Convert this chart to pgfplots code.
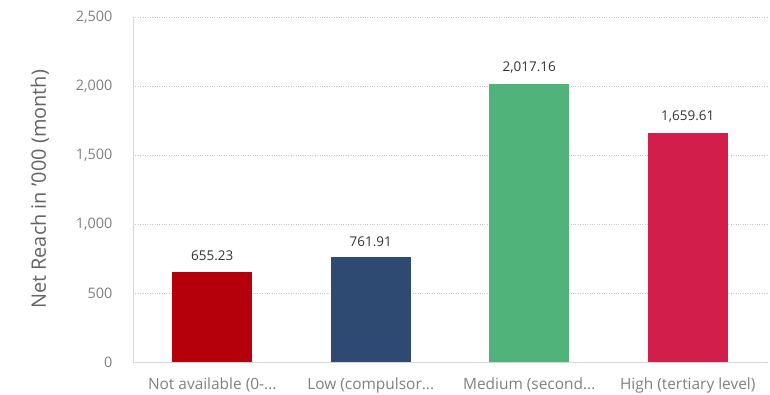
\documentclass[border=0pt]{standalone}
\usepackage{pgfplots}
\pgfplotsset{compat=1.18}
\usepackage{fontspec}
\setmainfont{Open Sans}
\newcommand{\tdots}{...}
\definecolor{cRed}{RGB}{181,0,12}
\definecolor{cNavy}{RGB}{46,74,115}
\definecolor{cGreen}{RGB}{79,179,122}
\definecolor{cCrim}{RGB}{210,30,74}
\definecolor{tickgray}{RGB}{128,128,128}
\definecolor{labgray}{RGB}{100,100,100}
\definecolor{gridgray}{RGB}{200,200,200}
\definecolor{axgray}{RGB}{215,215,215}
\begin{document}
\begin{tikzpicture}
\path[use as bounding box] (-133bp,-33bp) rectangle (637bp,362bp);
\begin{axis}[
  at={(0,0)}, anchor=south west,
  scale only axis,
  width=634bp, height=345bp,
  xmin=-0.5, xmax=3.5,
  ymin=0, ymax=2500,
  ytick={0,500,1000,1500,2000,2500},
  xtick={0,1,2,3},
  xticklabels={{Not available (0-\tdots},{Low (compulsor\tdots},{Medium (second\tdots},{High (tertiary level)}},
  axis x line*=bottom, axis y line*=left,
  axis line style={axgray, line width=0.8pt, -},
  major tick length=0pt,
  ymajorgrids,
  grid style={gridgray, dotted, line width=0.7pt},
  tick label style={font=\fontsize{14.5}{16}\selectfont, text=tickgray},
  yticklabel style={xshift=-17bp},
  xticklabel style={yshift=-12bp, font=\fontsize{15.5}{17}\selectfont},
  /pgf/number format/assume math mode=true,
  /pgf/number format/.cd, 1000 sep={,}, /pgfplots/.cd,
  ylabel={Net Reach in '000 (month)},
  ylabel style={font=\fontsize{20}{22}\selectfont, text=labgray, at={(axis description cs:-0.147,0.5)}, anchor=center},
  ybar, bar width=80bp,
  nodes near coords,
  every node near coord/.append style={font=\fontsize{13.5}{15}\selectfont, text=black!80, yshift=7bp,
    /pgf/number format/.cd, fixed, fixed zerofill, precision=2, 1000 sep={,}, assume math mode=true},
  clip=false,
]
\addplot[fill=cRed, draw=none, bar shift=0pt] coordinates {(0,655.23)};
\addplot[fill=cNavy, draw=none, bar shift=0pt] coordinates {(1,761.91)};
\addplot[fill=cGreen, draw=none, bar shift=0pt] coordinates {(2,2017.16)};
\addplot[fill=cCrim, draw=none, bar shift=0pt] coordinates {(3,1659.61)};
\end{axis}
\end{tikzpicture}
\end{document}
